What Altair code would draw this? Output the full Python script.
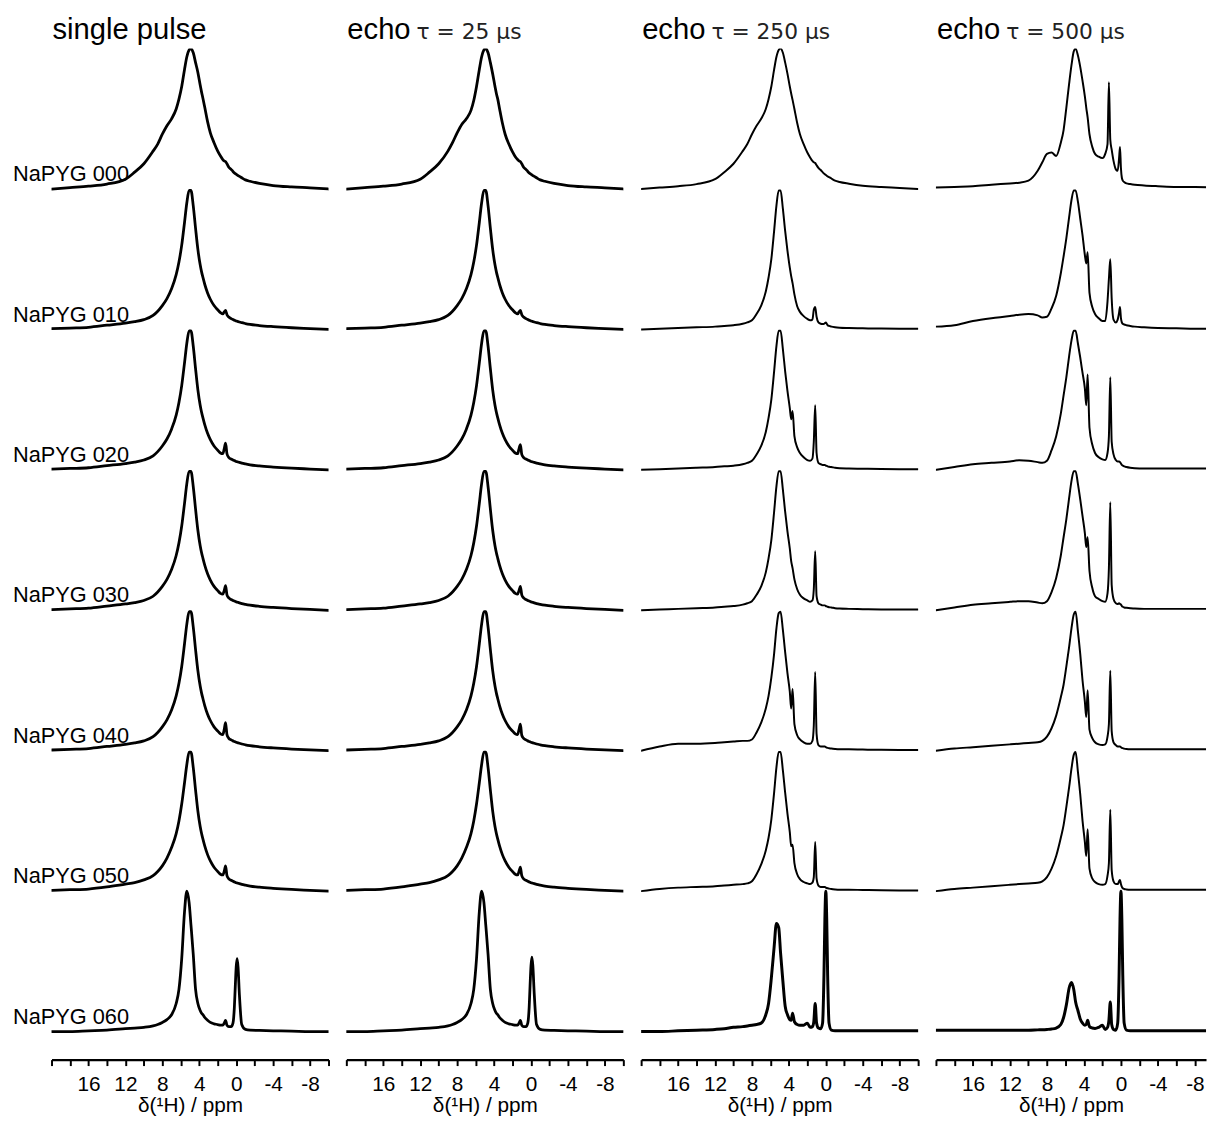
import altair as alt
import pandas as pd

# chemical shift grid (ppm), shared by all spectra
PPM = [20, 18, 16, 14, 12, 11, 10, 9, 8.5, 8,
       7.5, 7, 6.5, 6.2, 5.9, 5.6, 5.35, 5.1, 4.9, 4.65,
       4.4, 4.15, 3.9, 3.75, 3.6, 3.4, 3.1, 2.8, 2.4, 2.0,
       1.7, 1.45, 1.3, 1.15, 1.0, 0.8, 0.55, 0.35, 0.2, 0.1,
       0.0, -0.1, -0.2, -0.35, -0.6, -1.0, -1.5, -2.5, -4, -6,
       -8, -10]

SAMPLES = ["NaPYG 000", "NaPYG 010", "NaPYG 020", "NaPYG 030",
           "NaPYG 040", "NaPYG 050", "NaPYG 060"]
TITLE_MAIN = ["single pulse", "echo", "echo", "echo"]
TITLE_TAU = ["", "τ = 25 μs", "τ = 250 μs", "τ = 500 μs"]
X_END = [-10, -10, -10, -9.2]
TICKS = [20, 18, 16, 14, 12, 10, 8, 6, 4, 2, 0, -2, -4, -6, -8, -10]

# ---------------- single pulse ----------------
SP_000 = [0.0, 0.01, 0.02, 0.035, 0.07, 0.12, 0.18, 0.27, 0.32, 0.39,
          0.45, 0.50, 0.57, 0.64, 0.73, 0.85, 0.94, 0.99, 1.0, 0.97,
          0.90, 0.83, 0.74, 0.69, 0.645, 0.58, 0.48, 0.40, 0.33, 0.27,
          0.235, 0.21, 0.20, 0.195, 0.18, 0.155, 0.14, 0.125, 0.115, 0.11,
          0.105, 0.10, 0.095, 0.09, 0.08, 0.065, 0.055, 0.04, 0.025, 0.015,
          0.008, 0.0]
SP_010 = [0.005, 0.01, 0.015, 0.03, 0.045, 0.055, 0.07, 0.10, 0.13, 0.17,
          0.22, 0.29, 0.39, 0.48, 0.60, 0.76, 0.90, 0.99, 0.99, 0.88,
          0.72, 0.57, 0.46, 0.41, 0.37, 0.32, 0.26, 0.215, 0.17, 0.14,
          0.12, 0.11, 0.125, 0.135, 0.105, 0.088, 0.077, 0.07, 0.066, 0.063,
          0.06, 0.058, 0.056, 0.053, 0.048, 0.042, 0.036, 0.028, 0.02, 0.012,
          0.006, 0.0]
SP_020 = [0.005, 0.01, 0.015, 0.03, 0.045, 0.055, 0.07, 0.10, 0.13, 0.17,
          0.22, 0.29, 0.39, 0.48, 0.60, 0.76, 0.90, 0.99, 0.99, 0.88,
          0.72, 0.57, 0.46, 0.41, 0.37, 0.32, 0.26, 0.215, 0.17, 0.14,
          0.12, 0.115, 0.15, 0.19, 0.115, 0.088, 0.077, 0.07, 0.066, 0.063,
          0.06, 0.058, 0.056, 0.053, 0.048, 0.042, 0.036, 0.028, 0.02, 0.012,
          0.006, 0.0]
SP_030 = [0.005, 0.01, 0.015, 0.03, 0.045, 0.055, 0.07, 0.10, 0.13, 0.17,
          0.22, 0.29, 0.39, 0.48, 0.60, 0.76, 0.90, 0.99, 0.99, 0.88,
          0.72, 0.57, 0.46, 0.41, 0.37, 0.32, 0.26, 0.215, 0.17, 0.14,
          0.12, 0.115, 0.14, 0.175, 0.11, 0.088, 0.077, 0.07, 0.066, 0.063,
          0.06, 0.058, 0.056, 0.053, 0.048, 0.042, 0.036, 0.028, 0.02, 0.012,
          0.006, 0.0]
SP_040 = [0.005, 0.01, 0.015, 0.03, 0.045, 0.055, 0.07, 0.10, 0.13, 0.17,
          0.22, 0.29, 0.39, 0.48, 0.60, 0.76, 0.90, 0.99, 0.99, 0.88,
          0.72, 0.57, 0.46, 0.41, 0.37, 0.32, 0.26, 0.215, 0.17, 0.14,
          0.12, 0.115, 0.15, 0.2, 0.115, 0.088, 0.077, 0.07, 0.066, 0.063,
          0.06, 0.058, 0.056, 0.053, 0.048, 0.042, 0.036, 0.028, 0.02, 0.012,
          0.006, 0.0]
SP_050 = [0.005, 0.01, 0.015, 0.03, 0.05, 0.06, 0.08, 0.11, 0.14, 0.18,
          0.235, 0.31, 0.41, 0.50, 0.62, 0.77, 0.90, 0.99, 0.99, 0.88,
          0.72, 0.57, 0.46, 0.41, 0.37, 0.32, 0.26, 0.215, 0.17, 0.14,
          0.12, 0.115, 0.14, 0.18, 0.11, 0.088, 0.077, 0.07, 0.066, 0.063,
          0.06, 0.058, 0.056, 0.053, 0.048, 0.042, 0.036, 0.028, 0.02, 0.012,
          0.006, 0.0]
SP_060 = [0.0, 0.0, 0.005, 0.01, 0.02, 0.025, 0.03, 0.04, 0.05, 0.065,
          0.085, 0.12, 0.2, 0.3, 0.52, 0.85, 1.0, 0.92, 0.76, 0.55,
          0.3, 0.2, 0.15, 0.13, 0.12, 0.10, 0.08, 0.065, 0.055, 0.05,
          0.045, 0.045, 0.06, 0.08, 0.045, 0.035, 0.035, 0.06, 0.17, 0.32,
          0.46, 0.52, 0.46, 0.26, 0.05, 0.015, 0.01, 0.008, 0.005, 0.003,
          0.0, 0.0]

# ---------------- echo tau = 25 us ----------------
E25_000 = [0.0, 0.01, 0.02, 0.035, 0.07, 0.12, 0.18, 0.27, 0.33, 0.40,
           0.46, 0.50, 0.56, 0.63, 0.73, 0.85, 0.94, 0.99, 1.0, 0.97,
           0.90, 0.82, 0.73, 0.68, 0.64, 0.57, 0.47, 0.39, 0.32, 0.265,
           0.23, 0.21, 0.20, 0.195, 0.18, 0.155, 0.14, 0.125, 0.115, 0.11,
           0.105, 0.10, 0.095, 0.09, 0.08, 0.065, 0.055, 0.04, 0.025, 0.015,
           0.008, 0.0]
E25_010 = [0.005, 0.01, 0.015, 0.03, 0.045, 0.055, 0.07, 0.10, 0.13, 0.17,
           0.22, 0.29, 0.39, 0.48, 0.60, 0.76, 0.90, 0.99, 0.99, 0.88,
           0.72, 0.57, 0.46, 0.41, 0.37, 0.32, 0.26, 0.215, 0.17, 0.14,
           0.12, 0.11, 0.125, 0.135, 0.105, 0.088, 0.077, 0.07, 0.066, 0.063,
           0.06, 0.058, 0.056, 0.053, 0.048, 0.042, 0.036, 0.028, 0.02, 0.012,
           0.006, 0.0]
E25_020 = [0.005, 0.01, 0.015, 0.03, 0.045, 0.055, 0.07, 0.10, 0.13, 0.17,
           0.22, 0.29, 0.39, 0.48, 0.60, 0.76, 0.90, 0.99, 0.99, 0.88,
           0.72, 0.57, 0.46, 0.41, 0.37, 0.32, 0.26, 0.215, 0.17, 0.14,
           0.12, 0.115, 0.15, 0.18, 0.11, 0.088, 0.077, 0.07, 0.066, 0.063,
           0.06, 0.058, 0.056, 0.053, 0.048, 0.042, 0.036, 0.028, 0.02, 0.012,
           0.006, 0.0]
E25_030 = [0.005, 0.01, 0.015, 0.03, 0.045, 0.055, 0.07, 0.10, 0.13, 0.17,
           0.22, 0.29, 0.39, 0.48, 0.60, 0.76, 0.90, 0.99, 0.99, 0.88,
           0.72, 0.57, 0.46, 0.41, 0.37, 0.32, 0.26, 0.215, 0.17, 0.14,
           0.12, 0.115, 0.14, 0.17, 0.11, 0.088, 0.077, 0.07, 0.066, 0.063,
           0.06, 0.058, 0.056, 0.053, 0.048, 0.042, 0.036, 0.028, 0.02, 0.012,
           0.006, 0.0]
E25_040 = [0.005, 0.01, 0.015, 0.03, 0.045, 0.055, 0.07, 0.10, 0.13, 0.17,
           0.22, 0.29, 0.39, 0.48, 0.60, 0.76, 0.90, 0.99, 0.99, 0.88,
           0.72, 0.57, 0.46, 0.41, 0.37, 0.32, 0.26, 0.215, 0.17, 0.14,
           0.12, 0.115, 0.15, 0.19, 0.11, 0.088, 0.077, 0.07, 0.066, 0.063,
           0.06, 0.058, 0.056, 0.053, 0.048, 0.042, 0.036, 0.028, 0.02, 0.012,
           0.006, 0.0]
E25_050 = [0.005, 0.01, 0.015, 0.03, 0.05, 0.06, 0.08, 0.11, 0.14, 0.18,
           0.235, 0.31, 0.41, 0.50, 0.62, 0.77, 0.90, 0.99, 0.99, 0.88,
           0.72, 0.57, 0.46, 0.41, 0.37, 0.32, 0.26, 0.215, 0.17, 0.14,
           0.12, 0.115, 0.14, 0.17, 0.11, 0.088, 0.077, 0.07, 0.066, 0.063,
           0.06, 0.058, 0.056, 0.053, 0.048, 0.042, 0.036, 0.028, 0.02, 0.012,
           0.006, 0.0]
E25_060 = [0.0, 0.0, 0.005, 0.01, 0.02, 0.025, 0.03, 0.04, 0.05, 0.065,
           0.085, 0.12, 0.2, 0.3, 0.52, 0.85, 1.0, 0.92, 0.76, 0.55,
           0.3, 0.2, 0.15, 0.13, 0.12, 0.10, 0.08, 0.065, 0.055, 0.05,
           0.045, 0.045, 0.06, 0.08, 0.045, 0.035, 0.035, 0.06, 0.17, 0.33,
           0.47, 0.53, 0.47, 0.27, 0.05, 0.015, 0.01, 0.008, 0.005, 0.003,
           0.0, 0.0]

# ---------------- echo tau = 250 us ----------------
E250_000 = [0.0, 0.01, 0.02, 0.035, 0.07, 0.12, 0.18, 0.27, 0.32, 0.39,
            0.45, 0.50, 0.57, 0.64, 0.73, 0.85, 0.94, 0.99, 1.0, 0.97,
            0.90, 0.82, 0.73, 0.68, 0.635, 0.57, 0.47, 0.39, 0.32, 0.26,
            0.225, 0.20, 0.19, 0.185, 0.17, 0.15, 0.135, 0.12, 0.11, 0.105,
            0.10, 0.095, 0.09, 0.085, 0.075, 0.06, 0.05, 0.038, 0.024, 0.015,
            0.008, 0.0]
E250_010 = [0.0, 0.005, 0.01, 0.015, 0.02, 0.025, 0.03, 0.04, 0.05, 0.065,
            0.11, 0.17, 0.27, 0.37, 0.5, 0.7, 0.88, 0.99, 0.99, 0.86,
            0.7, 0.56, 0.44, 0.38, 0.33, 0.25, 0.165, 0.125, 0.095, 0.075,
            0.065, 0.07, 0.14, 0.16, 0.09, 0.05, 0.04, 0.038, 0.04, 0.045,
            0.05, 0.04, 0.03, 0.025, 0.02, 0.015, 0.012, 0.01, 0.008, 0.006,
            0.005, 0.005]
E250_020 = [0.0, 0.005, 0.01, 0.015, 0.02, 0.025, 0.03, 0.04, 0.05, 0.065,
            0.11, 0.17, 0.27, 0.37, 0.5, 0.7, 0.88, 0.99, 0.99, 0.86,
            0.7, 0.56, 0.44, 0.36, 0.42, 0.24, 0.16, 0.12, 0.09, 0.07,
            0.065, 0.08, 0.2, 0.46, 0.12, 0.05, 0.04, 0.035, 0.035, 0.035,
            0.03, 0.028, 0.025, 0.022, 0.02, 0.015, 0.012, 0.01, 0.008, 0.006,
            0.005, 0.005]
E250_030 = [0.0, 0.005, 0.01, 0.015, 0.02, 0.025, 0.03, 0.04, 0.05, 0.065,
            0.11, 0.17, 0.27, 0.37, 0.5, 0.7, 0.88, 0.99, 0.99, 0.86,
            0.7, 0.56, 0.44, 0.35, 0.3, 0.22, 0.15, 0.11, 0.085, 0.07,
            0.06, 0.07, 0.15, 0.42, 0.1, 0.05, 0.04, 0.035, 0.035, 0.035,
            0.03, 0.028, 0.025, 0.022, 0.02, 0.015, 0.012, 0.01, 0.008, 0.006,
            0.005, 0.005]
E250_040 = [0.0, 0.03, 0.05, 0.05, 0.055, 0.06, 0.065, 0.07, 0.07, 0.08,
            0.13, 0.2, 0.3, 0.39, 0.52, 0.69, 0.87, 0.98, 0.99, 0.86,
            0.7, 0.55, 0.42, 0.3, 0.44, 0.19, 0.11, 0.08, 0.06, 0.05,
            0.05, 0.07, 0.18, 0.56, 0.12, 0.04, 0.03, 0.03, 0.03, 0.03,
            0.025, 0.022, 0.02, 0.018, 0.015, 0.012, 0.01, 0.01, 0.008, 0.006,
            0.005, 0.005]
E250_050 = [0.0, 0.015, 0.025, 0.03, 0.035, 0.04, 0.045, 0.05, 0.055, 0.07,
            0.12, 0.19, 0.29, 0.38, 0.51, 0.7, 0.88, 0.99, 0.99, 0.86,
            0.7, 0.55, 0.42, 0.32, 0.33, 0.2, 0.12, 0.085, 0.065, 0.055,
            0.05, 0.06, 0.1, 0.35, 0.09, 0.04, 0.03, 0.03, 0.03, 0.03,
            0.025, 0.022, 0.02, 0.018, 0.015, 0.012, 0.01, 0.01, 0.008, 0.006,
            0.005, 0.005]
E250_060 = [0.0, 0.0, 0.005, 0.01, 0.015, 0.02, 0.03, 0.035, 0.04, 0.045,
            0.05, 0.06, 0.12, 0.2, 0.38, 0.6, 0.77, 0.74, 0.56, 0.36,
            0.18, 0.12, 0.085, 0.08, 0.13, 0.07, 0.05, 0.045, 0.045, 0.06,
            0.03, 0.035, 0.07, 0.2, 0.06, 0.025, 0.02, 0.06, 0.4, 0.8,
            1.0, 0.8, 0.4, 0.06, 0.01, 0.005, 0.005, 0.005, 0.005, 0.005,
            0.005, 0.005]

# ---------------- echo tau = 500 us ----------------
E500_000 = [0.01, 0.015, 0.02, 0.03, 0.04, 0.045, 0.06, 0.13, 0.19, 0.25,
            0.26, 0.235, 0.33, 0.42, 0.58, 0.75, 0.88, 0.98, 1.0, 0.95,
            0.87, 0.77, 0.66, 0.58, 0.51, 0.39, 0.30, 0.25, 0.23, 0.22,
            0.25, 0.32, 0.76, 0.35, 0.28, 0.2, 0.14, 0.13, 0.22, 0.3,
            0.15, 0.08, 0.06, 0.05, 0.04, 0.035, 0.03, 0.025, 0.02, 0.015,
            0.015, 0.01]
E500_010 = [0.02, 0.03, 0.06, 0.08, 0.095, 0.105, 0.11, 0.1, 0.085, 0.09,
            0.15, 0.24, 0.4, 0.52, 0.65, 0.8, 0.92, 0.99, 0.99, 0.91,
            0.79, 0.67, 0.53, 0.47, 0.55, 0.26, 0.16, 0.11, 0.08, 0.06,
            0.06, 0.2, 0.36, 0.5, 0.22, 0.07, 0.05, 0.07, 0.12, 0.16,
            0.08, 0.05, 0.04, 0.035, 0.03, 0.025, 0.02, 0.015, 0.01, 0.008,
            0.005, 0.005]
E500_020 = [0.0, 0.02, 0.04, 0.05, 0.06, 0.068, 0.065, 0.055, 0.05, 0.065,
            0.14, 0.24, 0.4, 0.53, 0.66, 0.81, 0.92, 0.99, 0.99, 0.9,
            0.8, 0.69, 0.58, 0.46, 0.68, 0.3, 0.18, 0.12, 0.09, 0.075,
            0.07, 0.12, 0.24, 0.66, 0.2, 0.11, 0.07, 0.06, 0.06, 0.055,
            0.045, 0.035, 0.03, 0.025, 0.02, 0.015, 0.012, 0.01, 0.01, 0.01,
            0.01, 0.01]
E500_030 = [0.0, 0.02, 0.04, 0.05, 0.06, 0.065, 0.065, 0.055, 0.05, 0.065,
            0.13, 0.23, 0.39, 0.52, 0.65, 0.8, 0.92, 0.99, 0.99, 0.9,
            0.79, 0.67, 0.55, 0.45, 0.52, 0.28, 0.16, 0.1, 0.08, 0.065,
            0.06, 0.12, 0.3, 0.77, 0.18, 0.08, 0.05, 0.045, 0.05, 0.045,
            0.04, 0.03, 0.025, 0.02, 0.018, 0.015, 0.012, 0.01, 0.01, 0.01,
            0.01, 0.01]
E500_040 = [0.0, 0.015, 0.025, 0.035, 0.045, 0.05, 0.055, 0.06, 0.07, 0.1,
            0.16, 0.25, 0.38, 0.47, 0.6, 0.74, 0.87, 0.97, 0.99, 0.85,
            0.69, 0.5, 0.35, 0.24, 0.43, 0.15, 0.09, 0.06, 0.045, 0.04,
            0.045, 0.1, 0.19, 0.57, 0.14, 0.06, 0.04, 0.03, 0.03, 0.03,
            0.025, 0.02, 0.018, 0.015, 0.012, 0.01, 0.01, 0.01, 0.01, 0.01,
            0.01, 0.01]
E500_050 = [0.0, 0.015, 0.025, 0.035, 0.045, 0.05, 0.055, 0.06, 0.07, 0.1,
            0.16, 0.25, 0.38, 0.47, 0.6, 0.74, 0.87, 0.97, 0.99, 0.85,
            0.69, 0.5, 0.35, 0.25, 0.44, 0.16, 0.09, 0.065, 0.05, 0.045,
            0.05, 0.11, 0.2, 0.58, 0.15, 0.07, 0.05, 0.05, 0.07, 0.08,
            0.05, 0.03, 0.02, 0.015, 0.012, 0.01, 0.01, 0.01, 0.01, 0.01,
            0.01, 0.01]
E500_060 = [0.01, 0.01, 0.01, 0.01, 0.01, 0.01, 0.01, 0.012, 0.013, 0.015,
            0.018, 0.025, 0.05, 0.1, 0.19, 0.31, 0.35, 0.3, 0.21, 0.15,
            0.09, 0.06, 0.045, 0.05, 0.08, 0.035, 0.025, 0.022, 0.03, 0.045,
            0.015, 0.03, 0.08, 0.21, 0.05, 0.015, 0.01, 0.06, 0.4, 0.8,
            1.0, 0.8, 0.4, 0.06, 0.01, 0.005, 0.005, 0.005, 0.005, 0.005,
            0.005, 0.005]

SPECTRA = [
    [SP_000, SP_010, SP_020, SP_030, SP_040, SP_050, SP_060],
    [E25_000, E25_010, E25_020, E25_030, E25_040, E25_050, E25_060],
    [E250_000, E250_010, E250_020, E250_030, E250_040, E250_050, E250_060],
    [E500_000, E500_010, E500_020, E500_030, E500_040, E500_050, E500_060],
]

# ---------------- build tables ----------------
NROW = len(SAMPLES)
records = []
for p, col in enumerate(SPECTRA):
    for r, vals in enumerate(col):
        sw = 2.8 if p < 2 else (3.0 if r == NROW - 1 else 2.0)
        for ppm, v in zip(PPM, vals):
            records.append({"panel": p, "sample": SAMPLES[r], "ppm": ppm,
                            "y": v + (NROW - 1 - r), "sw": sw})
df = pd.DataFrame(records)
labels_df = pd.DataFrame({"sample": SAMPLES,
                          "base": [NROW - 1 - r for r in range(NROW)]})

PX_PER_PPM = 9.333
PLOT_H = 1022
FONT = "Liberation Sans"

y_scale = alt.Scale(domain=[-0.2, NROW], nice=False, zero=False)


def make_panel(p):
    dom = [20, X_END[p]]
    w = round(PX_PER_PPM * (20 - X_END[p]))
    vals = [t for t in TICKS if t >= X_END[p]]
    x_enc = alt.X(
        "ppm:Q",
        scale=alt.Scale(domain=dom, nice=False, zero=False),
        axis=alt.Axis(
            values=vals,
            labelExpr="(datum.value % 4 == 0 && datum.value < 20) ? '' + datum.value : ''",
            title="δ(¹H) / ppm",
            grid=False,
            domainColor="black", domainWidth=2.4,
            tickColor="black", tickWidth=2, tickSize=6,
            labelFont=FONT, labelFontSize=21, labelColor="black",
            labelPadding=8, labelFlush=False, labelOverlap=False,
            titleFont=FONT, titleFontSize=21, titleFontWeight="normal",
            titleColor="black", titlePadding=0,
        ),
    )
    line = alt.Chart(df[df.panel == p]).mark_line(
        color="black", interpolate="monotone", strokeJoin="round",
        strokeCap="round", clip=True,
    ).encode(
        x=x_enc,
        y=alt.Y("y:Q", scale=y_scale, axis=None),
        detail="sample:N",
        strokeWidth=alt.StrokeWidth("sw:Q", scale=None),
        order="ppm:Q",
    )
    title_main = alt.Chart(pd.DataFrame({"t": [TITLE_MAIN[p]]})).mark_text(
        align="left", baseline="alphabetic", font=FONT, fontSize=29.5,
        color="black",
    ).encode(text="t:N", x=alt.value(1), y=alt.value(-10))
    layers = [line, title_main]
    if TITLE_TAU[p]:
        tau = alt.Chart(pd.DataFrame({"t": [TITLE_TAU[p]]})).mark_text(
            align="left", baseline="alphabetic", font="DejaVu Sans",
            fontSize=22, color="#222222",
        ).encode(text="t:N", x=alt.value(71), y=alt.value(-10))
        layers.append(tau)
    if p == 0:
        lab = alt.Chart(labels_df).mark_text(
            align="left", baseline="alphabetic", font=FONT, fontSize=22,
            color="black", dy=-8,
        ).encode(text="sample:N", x=alt.value(-39),
                 y=alt.Y("base:Q", scale=y_scale, axis=None))
        layers.append(lab)
    return alt.layer(*layers).properties(width=w, height=PLOT_H)


chart = alt.hconcat(*[make_panel(p) for p in range(4)], spacing=16).properties(
    padding={"left": 5, "top": 1, "right": 2, "bottom": 0},
    background="white",
).configure_view(stroke=None)

chart.save("out.html", embed_options={"renderer": "svg", "actions": False})
